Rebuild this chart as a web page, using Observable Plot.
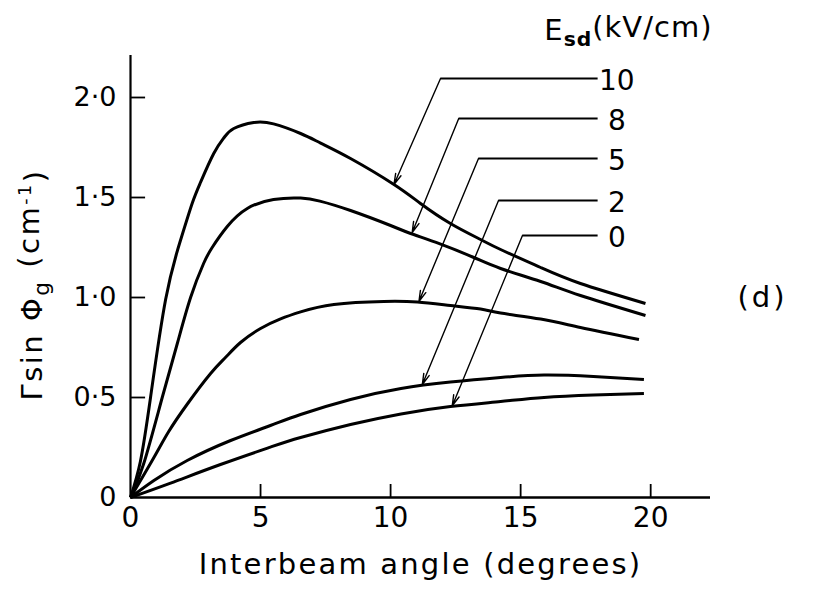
<!DOCTYPE html>
<html>
<head>
<meta charset="utf-8">
<script src="https://cdn.jsdelivr.net/npm/d3@7"></script>
<script src="https://cdn.jsdelivr.net/npm/@observablehq/plot@0.6"></script>
<style>
  html, body { margin: 0; padding: 0; background: #fff; }
  #chart { width: 821px; height: 597px; }
</style>
</head>
<body>
<div id="chart"></div>
<script>
// E_sd field values (kV/cm)
const fieldLabels = ["10", "8", "5", "2", "0"];

// [interbeam angle (deg), Γ sin Φg (cm^-1)]
const curveE10 = [[0,0],[0.38,0.18],[0.77,0.5],[1.35,0.99],[1.92,1.285],[2.37,1.47],[2.69,1.575],[3.2,1.72],[3.6,1.80],[3.97,1.845],[4.74,1.875],[5.5,1.868],[6.54,1.82],[7.31,1.772],[8.46,1.695],[10.13,1.565],[11.15,1.47],[12.3,1.37],[13.46,1.29],[14.23,1.24],[15.77,1.15],[17.3,1.07],[19.8,0.97]];
const curveE8  = [[0,0],[0.51,0.17],[1.22,0.5],[1.8,0.77],[2.31,1.0],[2.81,1.17],[3.14,1.25],[3.72,1.355],[4.49,1.445],[5.5,1.49],[6.54,1.497],[7.28,1.482],[8.46,1.435],[10.0,1.36],[10.77,1.32],[11.9,1.268],[13.2,1.2],[14.23,1.145],[15.77,1.08],[17.3,1.01],[19.8,0.91]];
const curveE5  = [[0,0],[0.9,0.2],[1.47,0.33],[2.2,0.47],[3.08,0.62],[3.65,0.70],[4.23,0.775],[5.0,0.845],[5.77,0.893],[6.54,0.928],[7.82,0.965],[9.74,0.98],[11.03,0.977],[12.3,0.96],[13.46,0.942],[14.23,0.922],[15.77,0.892],[17.3,0.85],[19.55,0.79]];
const curveE2  = [[0,0],[0.9,0.085],[2.18,0.185],[3.85,0.285],[5.38,0.36],[6.54,0.415],[8.46,0.49],[10.4,0.545],[12.3,0.577],[14.23,0.60],[15.9,0.612],[17.8,0.605],[19.74,0.59]];
const curveE0  = [[0,0],[1.54,0.072],[3.46,0.165],[5.38,0.252],[6.54,0.3],[8.46,0.365],[10.4,0.418],[12.3,0.455],[14.23,0.48],[15.9,0.50],[17.8,0.512],[19.74,0.52]];

const curves = [curveE10, curveE8, curveE5, curveE2, curveE0];

// leader annotations (data units)
const leaderKneeAngle = [11.92, 12.62, 13.38, 14.15, 15.07];
const leaderKneeGain  = [2.095, 1.895, 1.695, 1.485, 1.31];
const arrowTipAngle   = [10.13, 10.83, 11.09, 11.22, 12.37];
const arrowTipGain    = [1.565, 1.325, 0.98, 0.565, 0.458];
const leaderEndAngle  = 17.96;
const labelAngle      = 18.7;

const xTicks = [0, 5, 10, 15, 20];
const yTicks = [0, 0.5, 1.0, 1.5, 2.0];
const xLabel = "Interbeam angle (degrees)";
const yLabel = "Γsin Φg (cm-1)";
const legendTitle = "Esd(kV/cm)";
const panelTag = "(d)";

// tidy table for Plot
const rows = curves.flatMap((c, i) => c.map(([a, g]) => ({field: fieldLabels[i], angle: a, gain: g})));
const leaders = fieldLabels.map((f, i) => ({
  field: f,
  kx: leaderKneeAngle[i], ky: leaderKneeGain[i],
  tx: arrowTipAngle[i], ty: arrowTipGain[i]
}));

const FONT = "'DejaVu Sans', sans-serif";
const fmt = d => d === 0 ? "0" : d.toFixed(1).replace(".", "·");

const chart = Plot.plot({
  width: 821,
  height: 597,
  marginLeft: 130,
  marginRight: 111,
  marginTop: 55,
  marginBottom: 100,
  style: {fontFamily: FONT, background: "#fff", color: "#000"},
  x: {domain: [0, 22.3], ticks: xTicks},
  y: {domain: [0, 2.21], ticks: yTicks},
  marks: [
    Plot.axisX(xTicks, {tickSize: 0, tickPadding: 10, tickFormat: d => String(d), fontSize: 28, label: null}),
    Plot.axisY(yTicks, {tickSize: 0, tickPadding: 14, tickFormat: fmt, fontSize: 27, label: null}),
    // axis lines
    Plot.ruleY([0], {stroke: "#000", strokeWidth: 2.6}),
    Plot.ruleX([0], {stroke: "#000", strokeWidth: 2.2}),
    // inward ticks
    Plot.ruleX(xTicks.slice(1), {x: d => d, y1: 0, y2: 0.065, stroke: "#000", strokeWidth: 1.8}),
    Plot.ruleY(yTicks.slice(1), {y: d => d, x1: 0, x2: 0.58, stroke: "#000", strokeWidth: 1.8}),
    // curves
    Plot.line(rows, {x: "angle", y: "gain", z: "field", curve: "natural", stroke: "#000", strokeWidth: 3, strokeLinecap: "butt"}),
    // leaders
    Plot.link(leaders, {x1: "kx", y1: "ky", x2: () => leaderEndAngle, y2: "ky", stroke: "#000", strokeWidth: 1.8}),
    Plot.arrow(leaders, {x1: "kx", y1: "ky", x2: "tx", y2: "ty", stroke: "#000", strokeWidth: 1.4, headLength: 12, headAngle: 30}),
    Plot.text(leaders, {x: () => labelAngle, y: "ky", text: "field", fontSize: 28, dy: 3, textAnchor: "middle", fill: "#000"}),
    // titles
    Plot.text([xLabel], {frameAnchor: "bottom", lineAnchor: "middle", textAnchor: "middle", dy: 67, fontSize: 29, fill: "#000"}),
    Plot.text([yLabel], {frameAnchor: "left", textAnchor: "middle", lineAnchor: "middle", rotate: -90, dx: -98, dy: 8, fontSize: 29, fill: "#000"}),
    Plot.text([legendTitle], {frameAnchor: "top-right", textAnchor: "end", lineAnchor: "middle", dy: -25, dx: 2, fontSize: 29, fill: "#000"}),
    Plot.text([panelTag], {frameAnchor: "right", textAnchor: "start", lineAnchor: "middle", dx: 27, dy: 21, fontSize: 29, fill: "#000"})
  ]
});

document.getElementById("chart").appendChild(chart);

// sub/superscripts and letter spacing of the stencil lettering
d3.select(chart).selectAll("text").each(function() {
  const t = this.textContent;
  const sel = d3.select(this);
  if (t === yLabel) {
    sel.style("letter-spacing", "2.5px");
    sel.text(null);
    sel.append("tspan").text("Γsin Φ");
    sel.append("tspan").attr("dy", "0.35em").attr("font-size", "0.75em").text("g");
    sel.append("tspan").attr("dy", "-0.35em").text(" (cm");
    sel.append("tspan").attr("dy", "-0.5em").attr("font-size", "0.6em").text("-1");
    sel.append("tspan").attr("dy", "0.5em").text(")");
  } else if (t === legendTitle) {
    sel.style("letter-spacing", "1px");
    sel.text(null);
    sel.append("tspan").text("E");
    sel.append("tspan").attr("dy", "0.3em").attr("font-size", "0.7em").attr("font-weight", "bold").text("sd");
    sel.append("tspan").attr("dy", "-0.3em").text("(kV/cm)");
  } else if (t === xLabel) {
    sel.style("letter-spacing", "2.2px");
  } else if (t === panelTag) {
    sel.style("letter-spacing", "3px");
  }
});
</script>
</body>
</html>
